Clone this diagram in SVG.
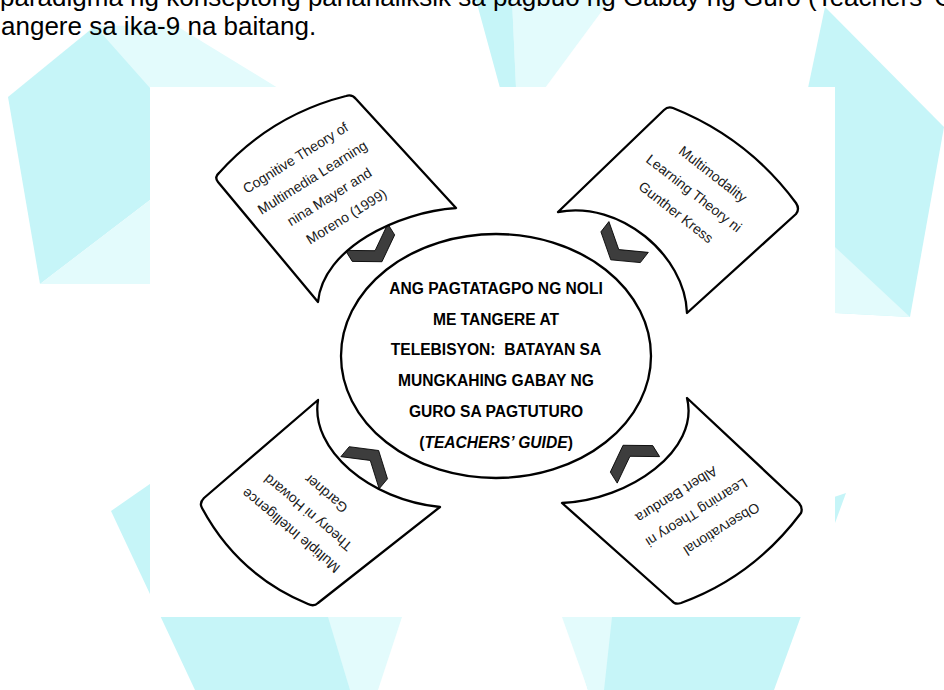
<svg xmlns="http://www.w3.org/2000/svg" width="944" height="690" viewBox="0 0 944 690">
<style>
.bg{fill:#c6f5f8;}
.bgl{fill:#e3fbfc;}
.node{fill:#ffffff;stroke:#000;stroke-width:2.3;stroke-linejoin:round;}
.ntx{font-family:"Liberation Sans",Arial,sans-serif;font-size:14px;fill:#1a1a1a;text-anchor:middle;}
.ctx{font-family:"Liberation Sans",Arial,sans-serif;font-size:15.6px;font-weight:bold;fill:#000;text-anchor:middle;}
.top{font-family:"Liberation Sans",Arial,sans-serif;font-size:26px;fill:#000;}
.chev{fill:#3d3d3d;stroke:#000;stroke-width:0.8;}
</style>
<defs>
<polygon id="chv" points="-25,-14 0,2 25,-14 25,-1 0,15 -25,-1"/>
</defs>
<rect x="0" y="0" width="944" height="690" fill="#ffffff"/>
<g id="background">
<polygon class="bg" points="8,97 95,26 168,86 150,200 40,284"/>
<polygon class="bgl" points="40,284 150,200 150,284"/>
<polygon class="bgl" points="95,26 175,25 278,88 150,88"/>
<polygon class="bgl" points="512,0 610,0 545,88 516,88"/>
<polygon class="bg" points="476,0 512,0 516,88 500,88"/>
<polygon class="bg" points="825,7 944,127 910,317 835,313 808,88"/>
<polygon class="bgl" points="835,247 910,317 835,313"/>
<polygon class="bg" points="111,511 170,470 405,600 372,690 195,690"/>
<polygon class="bgl" points="328,617 402,617 378,690 350,690"/>
<polygon class="bg" points="558,590 846,493 774,690 588,690"/>
<polygon class="bgl" points="562,617 612,617 604,690 588,690"/>
</g>
<text class="top" x="0" y="6">paradigma ng konseptong pananaliksik sa pagbuo ng Gabay ng Guro (Teachers' Guide) sa Noli Me</text>
<text class="top" x="1" y="35">angere sa ika-9 na baitang.</text>
<rect id="panel" x="150" y="87" width="685" height="530" fill="#ffffff"/>
<g id="connectors">
<use href="#chv" class="chev" transform="translate(374,249) rotate(-32)"/>
<use href="#chv" class="chev" transform="translate(620,248) rotate(38)"/>
<use href="#chv" class="chev" transform="translate(369,462) rotate(-140)"/>
<use href="#chv" class="chev" transform="translate(631,458) rotate(148)"/>
</g>
<g id="node-center">
<ellipse class="node" cx="496" cy="356" rx="155" ry="122"/>
<text class="ctx" x="496" y="294">ANG PAGTATAGPO NG NOLI</text>
<text class="ctx" x="496" y="324.5">ME TANGERE AT</text>
<text class="ctx" x="496" y="355" xml:space="preserve">TELEBISYON:  BATAYAN SA</text>
<text class="ctx" x="496" y="386">MUNGKAHING GABAY NG</text>
<text class="ctx" x="496" y="417">GURO SA PAGTUTURO</text>
<text class="ctx" x="496" y="448">(<tspan font-style="italic">TEACHERS’ GUIDE</tspan>)</text>
</g>
<g id="node-cognitive">
<path class="node" d="M318,302 L218,182 Q214,177 219,173 Q271,115 346,96 Q352,94 356,99 L456,208 C398,212 323,248 318,302 Z"/>
<text class="ntx" transform="translate(298,162) rotate(-32)">Cognitive Theory of</text>
<text class="ntx" transform="translate(315,181.5) rotate(-32)">Multimedia Learning</text>
<text class="ntx" transform="translate(332,201) rotate(-32)">nina Mayer and</text>
<text class="ntx" transform="translate(349,220.5) rotate(-32)">Moreno (1999)</text>
</g>
<g id="node-multimodality">
<path class="node" d="M558,212 L664,110 Q668,106 673,108 Q748,138 796,203 Q800,209 796,214 L687,313 C685,255 620,200 558,212 Z"/>
<text class="ntx" transform="translate(710,178) rotate(38)">Multimodality</text>
<text class="ntx" transform="translate(691,197) rotate(38)">Learning Theory ni</text>
<text class="ntx" transform="translate(673,216) rotate(38)">Gunther Kress</text>
</g>
<g id="node-multiple">
<path class="node" d="M318,400 L204,498 Q199,503 202,508 Q238,575 308,604 Q314,607 318,603 L440,507 C370,500 310,450 318,400 Z"/>
<text class="ntx" transform="translate(294,527) rotate(-140)">Multiple Intelligence</text>
<text class="ntx" transform="translate(311,509) rotate(-140)">Theory ni Howard</text>
<text class="ntx" transform="translate(329,490) rotate(-140)">Gardner</text>
</g>
<g id="node-observational">
<path class="node" d="M687,398 L799,503 Q803,508 801,513 Q753,577 681,603 Q675,605 672,601 L562,503 C630,500 700,450 687,398 Z"/>
<text class="ntx" transform="translate(719,525) rotate(148)">Observational</text>
<text class="ntx" transform="translate(694,508.5) rotate(148)">Learning Theory ni</text>
<text class="ntx" transform="translate(674,490.5) rotate(148)">Albert Bandura</text>
</g>
</svg>
